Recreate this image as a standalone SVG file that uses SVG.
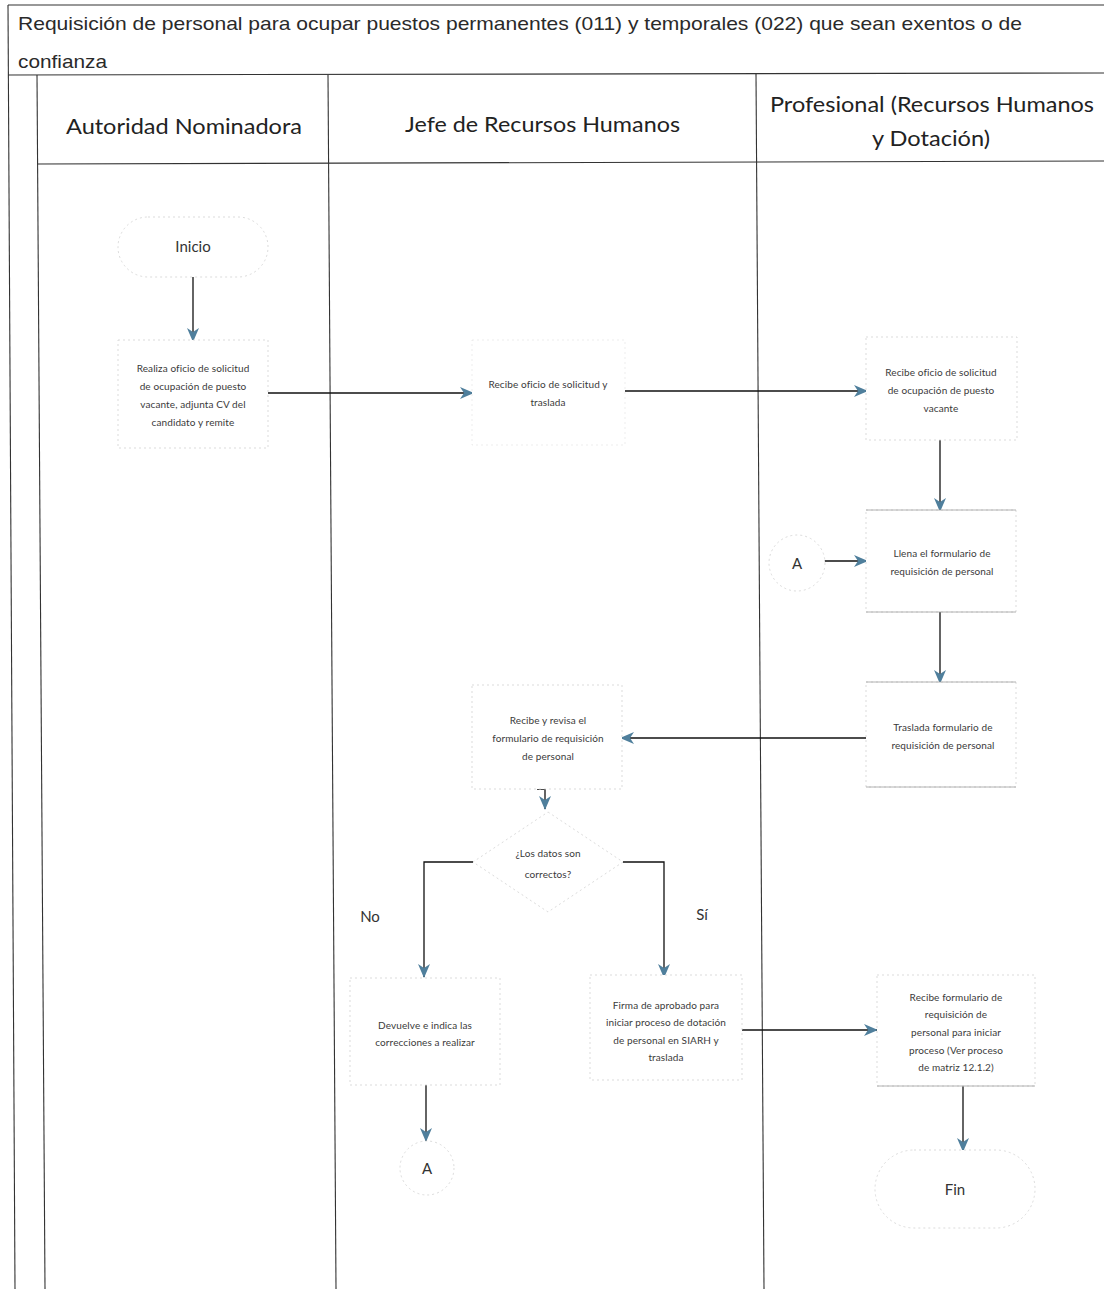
<svg xmlns="http://www.w3.org/2000/svg" width="1104" height="1289" viewBox="0 0 1104 1289">
  <style>
    .frame { stroke: #333; stroke-width: 1.1; fill: none; }
    .title { font-family: "Liberation Sans", Arial, sans-serif; font-size: 19px; fill: #2a2a2a; }
    .head { font-family: Lato, "Open Sans", sans-serif; font-size: 22px; fill: #222; }
    .shape { fill: #fff; stroke: #d2d2d2; stroke-width: 0.8; stroke-dasharray: 2 3; }
    .edge { stroke: #a0a0a0; stroke-width: 0.8; }
    .lbl { font-family: Lato, "Open Sans", sans-serif; font-size: 10px; fill: #3a3a3a; text-anchor: middle; letter-spacing: 0.1px; }
    .big { font-family: Lato, "Open Sans", sans-serif; font-size: 15px; fill: #333; text-anchor: middle; }
    .conn { stroke: #111; stroke-width: 1.3; fill: none; }
  </style>
  <defs>
    <marker id="ah" viewBox="0 0 14 12" refX="13" refY="6" markerWidth="14" markerHeight="12" markerUnits="userSpaceOnUse" orient="auto">
      <path d="M0,0 L14,6 L0,12 L4,6 Z" fill="#4f7f9c"/>
    </marker>
  </defs>
  <rect width="1104" height="1289" fill="#fff"/>

  <!-- pool frame and lanes -->
  <g id="pool">
    <line class="frame" x1="8" y1="5" x2="1104" y2="5"/>
    <line class="frame" x1="8" y1="5" x2="15" y2="1289"/>
    <line class="frame" x1="8" y1="75" x2="1104" y2="73"/>
    <line class="frame" x1="37" y1="75" x2="45" y2="1289"/>
    <line class="frame" x1="37" y1="164" x2="1104" y2="161"/>
    <line class="frame" x1="328" y1="75" x2="336" y2="1289"/>
    <line class="frame" x1="756" y1="74" x2="764" y2="1289"/>
    <text class="title" x="18" y="30" textLength="1004" lengthAdjust="spacingAndGlyphs">Requisición de personal para ocupar puestos permanentes (011) y temporales (022) que sean exentos o de</text>
    <text class="title" x="18" y="68" textLength="89" lengthAdjust="spacingAndGlyphs">confianza</text>
    <text class="head" x="66" y="134" textLength="236" lengthAdjust="spacingAndGlyphs">Autoridad Nominadora</text>
    <text class="head" x="405" y="132" textLength="275" lengthAdjust="spacingAndGlyphs">Jefe de Recursos Humanos</text>
    <text class="head" x="770" y="112" textLength="324" lengthAdjust="spacingAndGlyphs">Profesional (Recursos Humanos</text>
    <text class="head" x="872" y="146" textLength="118" lengthAdjust="spacingAndGlyphs">y Dotación)</text>
  </g>

  <!-- connectors -->
  <g id="connectors">
    <line class="conn" x1="193" y1="272" x2="193" y2="341" marker-end="url(#ah)"/>
    <line class="conn" x1="268" y1="393" x2="473" y2="393" marker-end="url(#ah)"/>
    <line class="conn" x1="625" y1="391" x2="867" y2="391" marker-end="url(#ah)"/>
    <line class="conn" x1="940" y1="440" x2="940" y2="511" marker-end="url(#ah)"/>
    <line class="conn" x1="822" y1="561" x2="867" y2="561" marker-end="url(#ah)"/>
    <line class="conn" x1="940" y1="612" x2="940" y2="683" marker-end="url(#ah)"/>
    <line class="conn" x1="866" y1="738" x2="621" y2="738" marker-end="url(#ah)"/>
    <polyline class="conn" points="537,789 545,789 545,809" marker-end="url(#ah)"/>
    <polyline class="conn" points="473,862 424,862 424,977" marker-end="url(#ah)"/>
    <polyline class="conn" points="623,862 664,862 664,977" marker-end="url(#ah)"/>
    <line class="conn" x1="742" y1="1030" x2="877" y2="1030" marker-end="url(#ah)"/>
    <line class="conn" x1="426" y1="1085" x2="426" y2="1141" marker-end="url(#ah)"/>
    <line class="conn" x1="963" y1="1086" x2="963" y2="1151" marker-end="url(#ah)"/>
    <text class="big" x="370" y="922">No</text>
    <text class="big" x="702" y="920">Sí</text>
  </g>

  <!-- nodes -->
  <g id="inicio">
    <rect class="shape" x="118" y="217" width="150" height="60" rx="30"/>
    <text class="big" x="193" y="252">Inicio</text>
  </g>
  <g id="realiza-oficio">
    <rect class="shape" x="118" y="340" width="150" height="108"/>
    <text class="lbl" x="193" y="372">Realiza oficio de solicitud</text>
    <text class="lbl" x="193" y="390">de ocupación de puesto</text>
    <text class="lbl" x="193" y="408">vacante, adjunta CV del</text>
    <text class="lbl" x="193" y="426">candidato y remite</text>
  </g>
  <g id="recibe-oficio-jefe">
    <rect class="shape" x="472" y="340" width="153" height="105" stroke-opacity="0.5"/>
    <text class="lbl" x="548" y="388">Recibe oficio de solicitud y</text>
    <text class="lbl" x="548" y="406">traslada</text>
  </g>
  <g id="recibe-oficio-prof">
    <rect class="shape" x="866" y="337" width="151" height="103"/>
    <text class="lbl" x="941" y="376">Recibe oficio de solicitud</text>
    <text class="lbl" x="941" y="394">de ocupación de puesto</text>
    <text class="lbl" x="941" y="412">vacante</text>
  </g>
  <g id="llena-formulario">
    <rect class="shape" x="866" y="510" width="150" height="102"/>
    <line class="edge" x1="866" y1="510" x2="1016" y2="510"/>
    <line class="edge" x1="866" y1="612" x2="1016" y2="612"/>
    <text class="lbl" x="942" y="557">Llena el formulario de</text>
    <text class="lbl" x="942" y="575">requisición de personal</text>
  </g>
  <g id="conector-a-entrada">
    <circle class="shape" cx="797" cy="563" r="28"/>
    <text class="big" x="797" y="569">A</text>
  </g>
  <g id="traslada-formulario">
    <rect class="shape" x="866" y="682" width="150" height="105"/>
    <line class="edge" x1="866" y1="682" x2="1016" y2="682"/>
    <line class="edge" x1="866" y1="787" x2="1016" y2="787"/>
    <text class="lbl" x="943" y="731">Traslada formulario de</text>
    <text class="lbl" x="943" y="749">requisición de personal</text>
  </g>
  <g id="recibe-revisa">
    <rect class="shape" x="472" y="685" width="150" height="104"/>
    <text class="lbl" x="548" y="724">Recibe y revisa el</text>
    <text class="lbl" x="548" y="742">formulario de requisición</text>
    <text class="lbl" x="548" y="760">de personal</text>
  </g>
  <g id="decision">
    <polygon class="shape" points="548,812 623,862 548,912 473,862"/>
    <text class="lbl" x="548" y="857">¿Los datos son</text>
    <text class="lbl" x="548" y="878">correctos?</text>
  </g>
  <g id="devuelve">
    <rect class="shape" x="350" y="978" width="150" height="107"/>
    <text class="lbl" x="425" y="1029">Devuelve e indica las</text>
    <text class="lbl" x="425" y="1046">correcciones a realizar</text>
  </g>
  <g id="conector-a-salida">
    <circle class="shape" cx="427" cy="1168" r="27"/>
    <text class="big" x="427" y="1174">A</text>
  </g>
  <g id="firma-aprobado">
    <rect class="shape" x="590" y="975" width="152" height="105"/>
    <text class="lbl" x="666" y="1009">Firma de aprobado para</text>
    <text class="lbl" x="666" y="1026">iniciar proceso de dotación</text>
    <text class="lbl" x="666" y="1044">de personal en SIARH y</text>
    <text class="lbl" x="666" y="1061">traslada</text>
  </g>
  <g id="recibe-formulario">
    <rect class="shape" x="877" y="975" width="158" height="111"/>
    <line class="edge" x1="877" y1="1086" x2="1035" y2="1086"/>
    <text class="lbl" x="956" y="1001">Recibe formulario de</text>
    <text class="lbl" x="956" y="1018">requisición de</text>
    <text class="lbl" x="956" y="1036">personal para iniciar</text>
    <text class="lbl" x="956" y="1054">proceso (Ver proceso</text>
    <text class="lbl" x="956" y="1071">de matriz 12.1.2)</text>
  </g>
  <g id="fin">
    <rect class="shape" x="875" y="1150" width="160" height="78" rx="39"/>
    <text class="big" x="955" y="1195">Fin</text>
  </g>
</svg>
